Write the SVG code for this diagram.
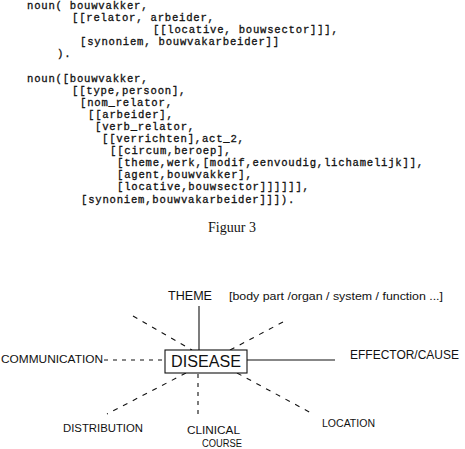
<svg xmlns="http://www.w3.org/2000/svg" width="465" height="449" viewBox="0 0 465 449">
<style>
.code{font-family:"Liberation Mono","Courier New",monospace;font-size:10.6px;letter-spacing:0.78px;fill:#111;stroke:#111;stroke-width:0.3;white-space:pre}
.cap{font-family:"Liberation Serif","Times New Roman",serif;font-size:14px;fill:#111}
.hw{font-family:"Liberation Sans",Arial,sans-serif;fill:#111}
.solid{stroke:#111;stroke-width:1.1;fill:none}
.dash{stroke:#111;stroke-width:1.1;fill:none;stroke-dasharray:5 6}
.dashs{stroke:#111;stroke-width:1.1;fill:none;stroke-dasharray:4 5}
</style>
<rect width="465" height="449" fill="#fff"/>
<g id="code1">
<text class="code" x="27" y="9">noun( bouwvakker,</text>
<text class="code" x="72" y="21.1">[[relator, arbeider,</text>
<text class="code" x="153" y="33.2">[[locative, bouwsector]]],</text>
<text class="code" x="80" y="45.3">[synoniem, bouwvakarbeider]]</text>
<text class="code" x="57" y="57.4">).</text>
</g>
<g id="code2">
<text class="code" x="27" y="81.5">noun([bouwvakker,</text>
<text class="code" x="72" y="93.6">[[type,persoon],</text>
<text class="code" x="80" y="105.7">[nom_relator,</text>
<text class="code" x="88" y="117.8">[[arbeider],</text>
<text class="code" x="95" y="129.9">[verb_relator,</text>
<text class="code" x="102" y="142">[[verrichten],act_2,</text>
<text class="code" x="110" y="154.1">[[circum,beroep],</text>
<text class="code" x="117" y="166.2">[theme,werk,[modif,eenvoudig,lichamelijk]],</text>
<text class="code" x="117" y="178.3">[agent,bouwvakker],</text>
<text class="code" x="117" y="190.4">[locative,bouwsector]]]]]],</text>
<text class="code" x="81" y="202.5">[synoniem,bouwvakarbeider]]]).</text>
</g>
<text class="cap" x="232" y="232" text-anchor="middle">Figuur 3</text>
<g id="connectors">
<line class="solid" x1="199" y1="306" x2="199" y2="350"/>
<line class="solid" x1="247" y1="360" x2="335" y2="360"/>
<line class="dashs" x1="104" y1="360" x2="165" y2="360"/>
<line class="dash" x1="133" y1="316" x2="192" y2="350"/>
<line class="dash" x1="283" y1="322" x2="230" y2="350"/>
<line class="dash" x1="186" y1="373" x2="107" y2="414"/>
<line class="dashs" x1="198" y1="374" x2="198" y2="417"/>
<line class="dash" x1="237" y1="373" x2="313" y2="414"/>
</g>
<g id="disease">
<rect x="165" y="350" width="82" height="23" fill="#fff" stroke="#111" stroke-width="1.1"/>
<text class="hw" x="171" y="367" font-size="16" textLength="70" lengthAdjust="spacingAndGlyphs">DISEASE</text>
</g>
<g id="theme">
<text class="hw" x="168" y="300" font-size="12" textLength="44" lengthAdjust="spacingAndGlyphs">THEME</text>
</g>
<g id="theme-note">
<text class="hw" x="229" y="300" font-size="11.5" textLength="214" lengthAdjust="spacingAndGlyphs">[body part /organ / system / function ...]</text>
</g>
<g id="effector">
<text class="hw" x="350" y="359" font-size="12.5" textLength="109" lengthAdjust="spacingAndGlyphs">EFFECTOR/CAUSE</text>
</g>
<g id="communication">
<text class="hw" x="1" y="363" font-size="11.5" textLength="102" lengthAdjust="spacingAndGlyphs">COMMUNICATION</text>
</g>
<g id="distribution">
<text class="hw" x="63" y="432" font-size="10" textLength="80" lengthAdjust="spacingAndGlyphs">DISTRIBUTION</text>
</g>
<g id="clinical-course">
<text class="hw" x="187" y="434" font-size="10" textLength="53" lengthAdjust="spacingAndGlyphs">CLINICAL</text>
<text class="hw" x="202" y="447" font-size="10" textLength="40" lengthAdjust="spacingAndGlyphs">COURSE</text>
</g>
<g id="location">
<text class="hw" x="322" y="427" font-size="10" textLength="53" lengthAdjust="spacingAndGlyphs">LOCATION</text>
</g>
</svg>
